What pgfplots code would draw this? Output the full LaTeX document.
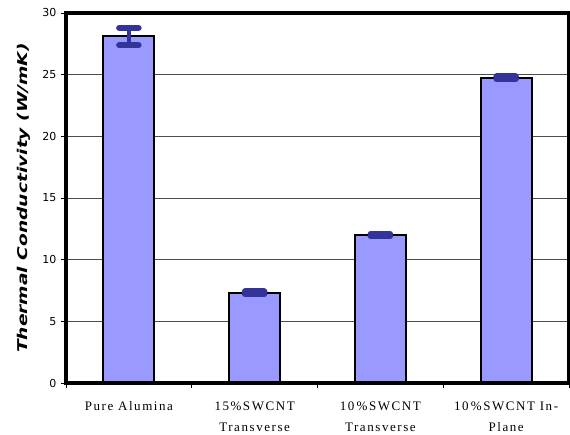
\documentclass[border=0pt]{standalone}
\usepackage{fontspec}
\setmainfont{Liberation Serif}[LetterSpace=12]
\newfontfamily\tickfont{DejaVu Sans}
\newfontfamily\labfont{DejaVu Sans}
\usepackage{pgfplots}
\pgfplotsset{compat=1.18}
\definecolor{barfill}{HTML}{9999FF}
\definecolor{errcol}{HTML}{333399}
\begin{document}
\begin{tikzpicture}
\begin{axis}[
  at={(0,0)}, anchor=south west,
  scale only axis,
  width=503pt, height=370pt,
  xmin=-0.5, xmax=3.5,
  ymin=0, ymax=30,
  ytick={0,5,10,15,20,25,30},
  ymajorgrids,
  major grid style={line width=0.9pt, black!70},
  axis line style={line width=3pt},
  tick align=outside,
  ytick pos=left,
  xtick pos=bottom,
  major tick length=5pt,
  minor tick length=5pt,
  tick style={line width=0.9pt, black},
  xtick={0,1,2,3},
  xticklabels={Pure Alumina, 15\%SWCNT\\Transverse, 10\,\%SWCNT\\Transverse, 10\,\%SWCNT In-\\Plane},
  x tick style={draw=none},
  minor xtick={-0.5,0.5,1.5,2.5,3.5},
  minor x tick style={draw=black, line width=0.9pt},
  xticklabel style={font=\fontsize{13}{21}\selectfont, align=center, yshift=-10pt},
  /pgf/number format/assume math mode=true,
  yticklabel style={font=\tickfont\fontsize{11}{13}\selectfont, xshift=-1pt},
  ylabel={Thermal Conductivity (W/mK)},
  ylabel style={font=\labfont\bfseries\itshape\fontsize{13.5}{15}\selectfont, xscale=1.38},
  ylabel shift=5pt,
  clip=false,
]
\addplot[ybar, bar width=51pt, fill=barfill, draw=black, line width=2pt,
  error bars/.cd, y dir=both, y explicit,
  error bar style={line width=4.5pt, errcol},
  error mark options={line width=6.5pt, errcol, mark size=9.5pt, line cap=round, rotate=90}]
  coordinates {
    (0,28.1) +- (0,0.7)
    (1,7.3) +- (0,0.1)
    (2,12.0) +- (0,0.1)
    (3,24.75) +- (0,0.1)
  };
\draw[line width=4pt] (rel axis cs:0,0) rectangle (rel axis cs:1,1);
\end{axis}
\pgfresetboundingbox
\path (-66pt,-52pt) rectangle (504pt,383pt);
\end{tikzpicture}
\end{document}
